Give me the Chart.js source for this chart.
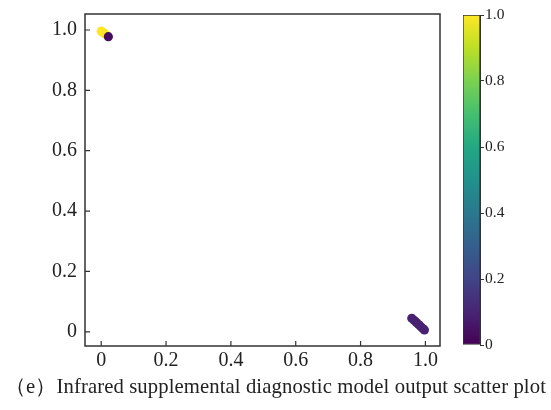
<!DOCTYPE html>
<html>
<head>
<meta charset="utf-8">
<script src="https://cdn.jsdelivr.net/npm/chart.js@4/dist/chart.umd.min.js"></script>
<style>
  html, body { margin: 0; padding: 0; background: #fff; }
  #wrap { position: relative; width: 551px; height: 410px; overflow: hidden; }
  #main { position: absolute; left: 0; top: 0; }
  #cbar { position: absolute; left: 440px; top: 0; }
  #caption {
    position: absolute; left: 0; top: 372px; width: 551px; text-align: center;
    font-family: 'Liberation Serif', 'DejaVu Serif', serif; font-size: 20.7px; color: #222;
    white-space: nowrap; letter-spacing: 0.1px;
  }
</style>
</head>
<body>
<div id="wrap">
  <canvas id="main" width="551" height="410"></canvas>
  <canvas id="cbar" width="111" height="410"></canvas>
  <div id="caption">（e）Infrared supplemental diagnostic model output scatter plot</div>
</div>
<script>
// ── Data ───────────────────────────────────────────────────
const xTicks = [0, 0.2, 0.4, 0.6, 0.8, 1.0];
const yTicks = [0, 0.2, 0.4, 0.6, 0.8, 1.0];
const cbTicks = [0, 0.2, 0.4, 0.6, 0.8, 1.0];

// predicted-probability points (x, y, colour value)
const ptX = [0.000, 0.004, 0.008, 0.012, 0.022, 0.958, 0.965, 0.972, 0.979, 0.986, 0.992, 0.997];
const ptY = [0.996, 0.993, 0.990, 0.987, 0.978, 0.045, 0.038, 0.031, 0.024, 0.017, 0.011, 0.006];
const ptV = [1.00, 1.00, 1.00, 1.00, 0.03, 0.09, 0.09, 0.09, 0.09, 0.09, 0.09, 0.09];

// ── Viridis ────────────────────────────────────────────────
const VIRIDIS = ['#440154', '#482475', '#414487', '#355f8d', '#2a788e', '#21918c',
                 '#22a884', '#44bf70', '#7ad151', '#bddf26', '#fde725'];

function hex(h) { return [1, 3, 5].map(i => parseInt(h.slice(i, i + 2), 16)); }
function viridis(v) {
  const t = Math.max(0, Math.min(1, v)) * (VIRIDIS.length - 1);
  const i = Math.min(Math.floor(t), VIRIDIS.length - 2);
  const f = t - i;
  const a = hex(VIRIDIS[i]), b = hex(VIRIDIS[i + 1]);
  const c = a.map((x, k) => Math.round(x + (b[k] - x) * f));
  return `rgb(${c[0]},${c[1]},${c[2]})`;
}

const SERIF = "'Liberation Serif', 'DejaVu Serif', serif";
const INK = '#333';
const fmt = v => (v === 0 ? '0' : v.toFixed(1));

// ── Frame + inward ticks ───────────────────────────────────
const frame = {
  id: 'frame',
  afterDraw(chart) {
    const { ctx, chartArea: a, scales } = chart;
    ctx.save();
    ctx.strokeStyle = INK;
    ctx.lineWidth = 1.5;
    ctx.strokeRect(a.left, a.top, a.right - a.left, a.bottom - a.top);
    ctx.lineWidth = 1.2;
    ctx.beginPath();
    xTicks.forEach(v => {
      const x = scales.x.getPixelForValue(v);
      ctx.moveTo(x, a.bottom); ctx.lineTo(x, a.bottom - 5);
    });
    yTicks.forEach(v => {
      const y = scales.y.getPixelForValue(v);
      ctx.moveTo(a.left, y); ctx.lineTo(a.left + 5, y);
    });
    ctx.stroke();
    ctx.restore();
  }
};

// ── Scatter chart ──────────────────────────────────────────
new Chart(document.getElementById('main'), {
  type: 'scatter',
  data: {
    datasets: [{
      data: ptX.map((x, i) => ({ x, y: ptY[i] })),
      pointBackgroundColor: ptV.map(viridis),
      pointBorderWidth: 0,
      pointRadius: 4.6,
    }]
  },
  options: {
    responsive: false,
    animation: false,
    layout: { padding: { left: 0, right: 111, top: 14, bottom: 34 } },
    plugins: { legend: { display: false }, tooltip: { enabled: false } },
    scales: {
      x: {
        type: 'linear', min: -0.05, max: 1.045,
        afterBuildTicks: s => { s.ticks = xTicks.map(value => ({ value })); },
        afterFit: s => { s.paddingLeft = 0; s.paddingRight = 0; },
        grid: { display: false, drawTicks: false },
        border: { display: false },
        ticks: { color: '#222', font: { family: SERIF, size: 20 }, padding: 3, callback: fmt, maxRotation: 0 }
      },
      y: {
        type: 'linear', min: -0.047, max: 1.053,
        afterBuildTicks: s => { s.ticks = yTicks.map(value => ({ value })); },
        afterFit: s => { s.width = 85; s.paddingTop = 0; s.paddingBottom = 0; },
        grid: { display: false, drawTicks: false },
        border: { display: false },
        ticks: { color: '#222', font: { family: SERIF, size: 20 }, padding: 8, callback: fmt }
      }
    }
  },
  plugins: [frame]
});

// ── Colorbar ───────────────────────────────────────────────
new Chart(document.getElementById('cbar'), {
  type: 'bar',
  data: {
    labels: [''],
    datasets: [{
      data: [[0, 1]],
      backgroundColor: ctx => {
        const a = ctx.chart.chartArea;
        if (!a) return VIRIDIS[0];
        const g = ctx.chart.ctx.createLinearGradient(0, a.bottom, 0, a.top);
        VIRIDIS.forEach((c, i) => g.addColorStop(i / (VIRIDIS.length - 1), c));
        return g;
      },
      borderColor: INK,
      borderWidth: 1,
      borderSkipped: false,
      categoryPercentage: 1,
      barPercentage: 1,
    }]
  },
  options: {
    responsive: false,
    animation: false,
    layout: { padding: { left: 23, right: 0, top: 15, bottom: 65 } },
    plugins: { legend: { display: false }, tooltip: { enabled: false } },
    scales: {
      x: { display: false },
      y: {
        position: 'right', min: 0, max: 1,
        afterBuildTicks: s => { s.ticks = cbTicks.map(value => ({ value })); },
        afterFit: s => { s.width = 71; s.paddingTop = 0; s.paddingBottom = 0; },
        grid: { drawOnChartArea: false, tickLength: 4, color: INK },
        border: { display: true, color: INK },
        ticks: { color: '#222', font: { family: SERIF, size: 15.5 }, padding: 1, callback: fmt }
      }
    }
  }
});
</script>
</body>
</html>
